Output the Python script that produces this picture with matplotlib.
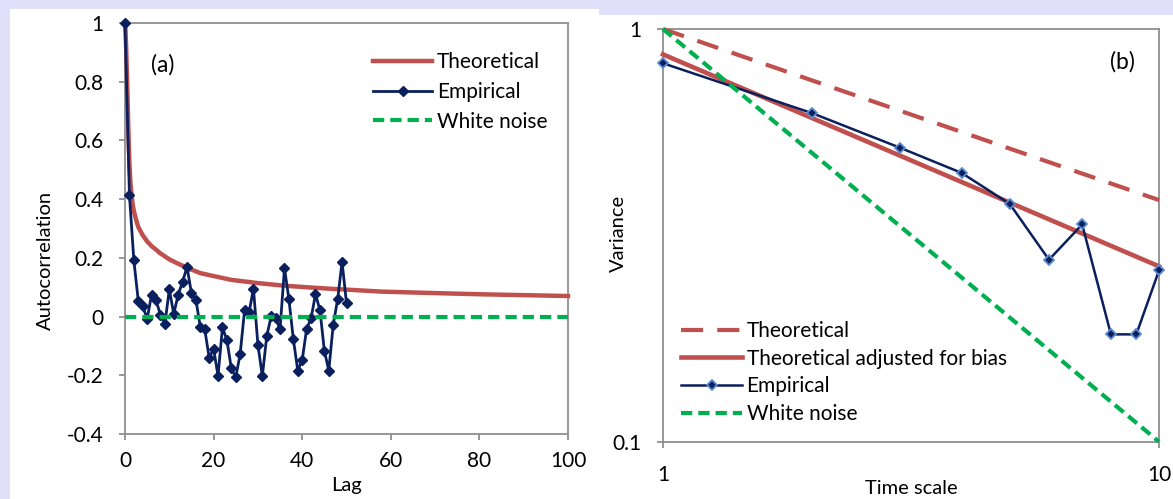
import matplotlib
matplotlib.use('Agg')
import matplotlib.pyplot as plt
from matplotlib.patches import Rectangle
from matplotlib.ticker import NullLocator
import numpy as np

plt.rcParams['font.family'] = ['Lato', 'DejaVu Sans']

# ---- panel (a): autocorrelation ----
lags = np.arange(0, 51)
acf_emp = [1.0, 0.414, 0.191, 0.053, 0.036, -0.008, 0.075, 0.055, 0.006, -0.026,
           0.093, 0.009, 0.074, 0.119, 0.169, 0.080, 0.057, -0.035, -0.043, -0.140,
           -0.110, -0.202, -0.037, -0.080, -0.176, -0.207, -0.127, 0.023, 0.014, 0.095,
           -0.096, -0.203, -0.066, 0.001, -0.005, -0.043, 0.165, 0.059, -0.077, -0.184,
           -0.148, -0.042, -0.006, 0.076, 0.023, -0.116, -0.184, -0.028, 0.059, 0.186,
           0.045]
theo_lags = [0, 0.1, 0.25, 0.5, 0.75, 1, 1.25, 1.5, 1.75, 2, 2.5, 3, 4, 5, 6, 7, 8, 10,
             12, 15, 17, 20, 24, 30, 36, 45, 58, 70, 80, 90, 100]
acf_theo = [1.0, 0.98, 0.92, 0.79, 0.64, 0.52, 0.45, 0.41, 0.38, 0.36, 0.33, 0.305,
            0.277, 0.256, 0.24, 0.228, 0.215, 0.195, 0.18, 0.16, 0.148, 0.138, 0.125,
            0.114, 0.105, 0.096, 0.085, 0.08, 0.076, 0.073, 0.07]
wn_lags = [0, 100]
acf_wn = [0, 0]

# ---- panel (b): variance vs time scale ----
scales = np.arange(1, 11)
var_emp = [0.826, 0.625, 0.516, 0.448, 0.377, 0.276, 0.336, 0.182, 0.182, 0.260]
line_scales = [1, 10]
var_theo = [1.0, 0.385]
var_adj = [0.868, 0.266]
var_wn = [1.0, 0.1]

red = '#C0504D'
navy = '#0A1F5E'
green = '#00B050'
grey = '#8F8F8F'

W, H = 1173, 499
fig = plt.figure(figsize=(W / 100., H / 100.), dpi=100)
fig.patch.set_facecolor('#E0E0FA')
# white chart areas
fig.add_artist(Rectangle((10. / W, 0), 589. / W, (H - 9.3) / H, transform=fig.transFigure,
                         facecolor='white', edgecolor='none', zorder=0))
fig.add_artist(Rectangle((599. / W, 0), (W - 599.) / W, (H - 15.) / H, transform=fig.transFigure,
                         facecolor='white', edgecolor='none', zorder=0))


def style_axes(ax):
    ax.set_facecolor('none')
    for s in ax.spines.values():
        s.set_color(grey)
        s.set_linewidth(1.3)
    ax.tick_params(which='both', direction='out', color=grey, width=1.3, length=4.5,
                   labelsize=15, top=False, right=False)
    ax.tick_params(axis='y', pad=11)
    ax.tick_params(axis='x', pad=8)


# (a)
ax1 = fig.add_axes([125. / W, (H - 434.) / H, 443. / W, 411. / H])
style_axes(ax1)
ax1.plot(theo_lags, acf_theo, color=red, lw=3.2, label='Theoretical', clip_on=False, zorder=3)
ax1.plot(lags, acf_emp, color=navy, lw=2, marker='D', ms=5, label='Empirical',
         clip_on=False, zorder=4)
ax1.plot(wn_lags, acf_wn, color=green, lw=3, dashes=(2.7, 1.45), label='White noise',
         clip_on=False, zorder=5)
ax1.set_xlim(0, 100)
ax1.set_ylim(-0.4, 1)
ax1.set_xticks(np.arange(0, 101, 20))
yt = np.arange(-0.4, 1.01, 0.2)
ax1.set_yticks(yt)
ax1.set_yticklabels(['-0.4', '-0.2', '0', '0.2', '0.4', '0.6', '0.8', '1'])
ax1.set_xlabel('Lag', fontsize=14.5, va='center')
ax1.xaxis.set_label_coords(0.5, (434. - 485.) / 411.)
ax1.set_ylabel('Autocorrelation', fontsize=14.5, va='center')
ax1.yaxis.set_label_coords((45. - 125.) / 443., (434. - 260.8) / 411.)
ax1.text((163. - 125.) / 443., (434. - 65.) / 411., '(a)', transform=ax1.transAxes,
         fontsize=16.5, ha='center', va='center')
ax1.legend(loc='upper left', bbox_to_anchor=(373. / W, (H - 52.) / H),
           bbox_transform=fig.transFigure, frameon=False, fontsize=15, borderpad=0,
           handlelength=2.84, handletextpad=0.24, labelspacing=0.47, numpoints=1,
           borderaxespad=0)

# (b)
ax2 = fig.add_axes([663. / W, (H - 441.7) / H, 496. / W, 412.7 / H])
style_axes(ax2)
ax2.set_xscale('log')
ax2.set_yscale('log')
ax2.plot(line_scales, var_theo, color=red, lw=3, dashes=(5.3, 3.4), label='Theoretical',
         clip_on=False, zorder=3)
ax2.plot(line_scales, var_adj, color=red, lw=3.3, label='Theoretical adjusted for bias',
         clip_on=False, zorder=4)
ax2.plot(scales, var_emp, color=navy, lw=1.8, marker='D', ms=5, mfc=navy, mec='#5B8BD0',
         mew=1.3, label='Empirical', clip_on=False, zorder=5)
ax2.plot(line_scales, var_wn, color=green, lw=3, dashes=(2.7, 1.45), label='White noise',
         clip_on=False, zorder=6)
ax2.set_xlim(1, 10)
ax2.set_ylim(0.1, 1)
ax2.set_xticks([1, 10])
ax2.set_xticklabels(['1', '10'])
ax2.set_yticks([0.1, 1])
ax2.set_yticklabels(['0.1', '1'])
ax2.xaxis.set_minor_locator(NullLocator())
ax2.yaxis.set_minor_locator(NullLocator())
ax2.tick_params(axis='x', pad=12)
ax2.set_xlabel('Time scale', fontsize=14.5, va='center')
ax2.xaxis.set_label_coords(0.5, (441.7 - 488.) / 412.7)
ax2.set_ylabel('Variance', fontsize=14.5, va='center')
ax2.yaxis.set_label_coords((618.3 - 663.) / 496., (441.7 - 233.3) / 412.7)
ax2.text((1122. - 663.) / 496., (441.7 - 62.) / 412.7, '(b)', transform=ax2.transAxes,
         fontsize=16.5, ha='center', va='center')
ax2.legend(loc='upper left', bbox_to_anchor=(681. / W, (H - 321.) / H),
           bbox_transform=fig.transFigure, frameon=False, fontsize=15, borderpad=0,
           handlelength=2.93, handletextpad=0.22, labelspacing=0.37, numpoints=1,
           borderaxespad=0)

fig.savefig('out.png', dpi=100, facecolor=fig.get_facecolor())
